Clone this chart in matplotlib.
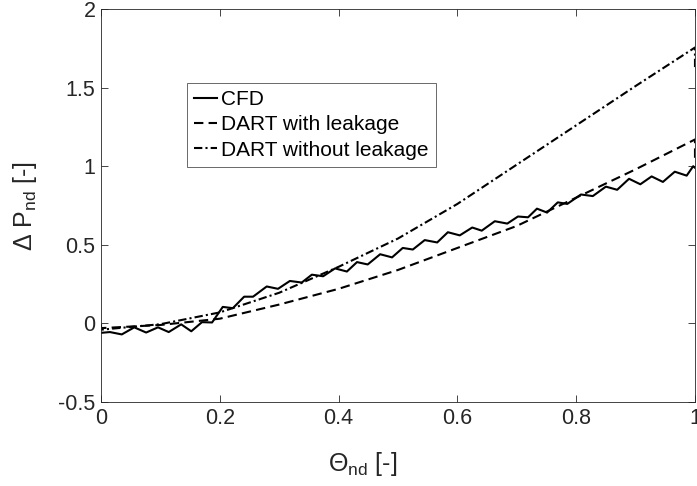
import numpy as np
import matplotlib
matplotlib.use("Agg")
import matplotlib.pyplot as plt

plt.rcParams["font.family"] = ["Liberation Sans", "DejaVu Sans"]
plt.rcParams["mathtext.default"] = "regular"

# CFD 曲线（带小幅振荡）
cfd_theta = [0.000, 0.015, 0.035, 0.056, 0.076, 0.096, 0.114, 0.135, 0.152, 0.170,
             0.187, 0.205, 0.222, 0.241, 0.256, 0.279, 0.298, 0.318, 0.338, 0.355,
             0.374, 0.394, 0.414, 0.431, 0.449, 0.470, 0.490, 0.508, 0.525, 0.545,
             0.566, 0.584, 0.604, 0.625, 0.641, 0.663, 0.684, 0.702, 0.719, 0.734,
             0.751, 0.769, 0.785, 0.808, 0.828, 0.850, 0.869, 0.889, 0.908, 0.927,
             0.946, 0.966, 0.986, 0.997, 1.000]
cfd_dp = [-0.060, -0.055, -0.070, -0.025, -0.058, -0.025, -0.055, -0.006, -0.050, 0.008,
          0.006, 0.105, 0.097, 0.170, 0.170, 0.235, 0.220, 0.270, 0.260, 0.310,
          0.300, 0.350, 0.330, 0.390, 0.375, 0.440, 0.420, 0.480, 0.470, 0.530,
          0.515, 0.580, 0.560, 0.610, 0.590, 0.650, 0.635, 0.680, 0.675, 0.730,
          0.705, 0.770, 0.760, 0.820, 0.810, 0.870, 0.850, 0.920, 0.885, 0.935,
          0.900, 0.965, 0.940, 1.000, 0.990]

# DART 模型曲线
dart_theta = [0.0, 0.0, 0.1, 0.2, 0.3, 0.4, 0.5, 0.6, 0.7, 0.8, 0.9, 1.0, 1.0]
dart_leak = [-0.005, -0.030, -0.010, 0.030, 0.120, 0.220, 0.340, 0.480, 0.620, 0.800, 0.980, 1.170, 1.050]
dart_noleak = [-0.005, -0.040, -0.005, 0.070, 0.195, 0.360, 0.540, 0.760, 1.010, 1.260, 1.510, 1.755, 1.630]

x_ticks = [0, 0.2, 0.4, 0.6, 0.8, 1]
x_ticklabels = ["0", "0.2", "0.4", "0.6", "0.8", "1"]
y_ticks = [-0.5, 0, 0.5, 1, 1.5, 2]
y_ticklabels = ["-0.5", "0", "0.5", "1", "1.5", "2"]

fig = plt.figure(figsize=(6.97, 4.86), dpi=100)
ax = fig.add_axes([0.1449, 0.1728, 0.8522, 0.8087])

ax.plot(cfd_theta, cfd_dp, color="black", lw=1.5, ls="-", label="CFD")
ax.plot(dart_theta, dart_leak, color="black", lw=1.5, dashes=(4.5, 2.5),
        label="DART with leakage")
ax.plot(dart_theta, dart_noleak, color="black", lw=1.5, dashes=(4, 1.5, 1, 1.5),
        label="DART without leakage")

ax.set_xlim(0, 1)
ax.set_ylim(-0.5, 2)
ax.set_xticks(x_ticks)
ax.set_xticklabels(x_ticklabels)
ax.set_yticks(y_ticks)
ax.set_yticklabels(y_ticklabels)

axis_color = "#262626"
ax.tick_params(direction="in", top=True, right=True, length=5, width=0.6,
               colors=axis_color, labelsize=15.5, pad=4)
for sp in ax.spines.values():
    sp.set_color(axis_color)
    sp.set_linewidth(0.6)

ax.set_xlabel("Θ$_{nd}$ [-]", fontsize=18, color=axis_color)
ax.set_ylabel("Δ P$_{nd}$ [-]", fontsize=18, color=axis_color)
ax.xaxis.set_label_coords(0.44, -0.122)
ax.yaxis.set_label_coords(-0.105, 0.5)

leg = ax.legend(loc="upper left", bbox_to_anchor=(0.145, 0.812), borderaxespad=0,
                fontsize=15, handlelength=1.1, handletextpad=0.2, labelspacing=0.3,
                borderpad=0.35, frameon=True, fancybox=False)
leg.get_frame().set_edgecolor(axis_color)
leg.get_frame().set_linewidth(0.6)

fig.savefig("out.png", dpi=100)
